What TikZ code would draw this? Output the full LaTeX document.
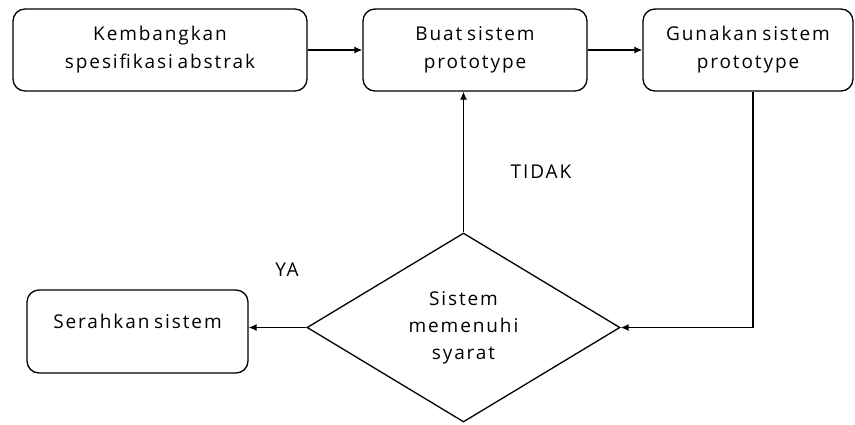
\documentclass[tikz,border=0pt]{standalone}
\usepackage{fontspec}
\setmainfont{Open Sans}[LetterSpace=10, WordSpace=0.7]
\usetikzlibrary{shapes.geometric,arrows.meta}

\begin{document}
\begin{tikzpicture}[x=1pt, y=-1pt,
    box/.style={draw, line width=1.3pt, rounded corners=12pt, align=center,
        font=\fontsize{19}{28}\selectfont},
    dec/.style={draw, diamond, line width=1.3pt, align=center, inner sep=0pt,
        font=\fontsize{19}{27}\selectfont},
    lbl/.style={font=\fontsize{19}{20}\selectfont},
    arr/.style={line width=1.3pt, -{Latex[length=8pt, width=7pt]}}]
    \useasboundingbox (0,0) rectangle (855,424);
    \node[box, minimum width=294pt, minimum height=82pt] (spec) at (160,50) {Kembangkan\\spesifikasi abstrak};
    \node[box, minimum width=224pt, minimum height=82pt] (buat) at (475,50) {Buat sistem\\prototype};
    \node[box, minimum width=210pt, minimum height=82pt] (guna) at (748,50) {Gunakan sistem\\prototype};
    \node[dec, minimum width=313pt, minimum height=189pt] (cek) at (463.5,327.5) {Sistem\\memenuhi\\syarat};
    \node[box, minimum width=221pt, minimum height=83pt, text height=13pt, text depth=19pt] (serah) at (137.5,331.5) {Serahkan sistem};
    \node[lbl] (ya) at (287,270) {YA};
    \node[lbl] (tidak) at (541,172) {TIDAK};
    \draw[arr] (spec) -- (buat);
    \draw[arr] (buat) -- (guna);
    \draw[arr] ([xshift=5pt]guna.south) |- (cek.east);
    \draw[arr] (cek.north) -- (cek.north |- buat.south);
    \draw[arr] (cek.west) -- (cek.west -| serah.east);
\end{tikzpicture}
\end{document}
